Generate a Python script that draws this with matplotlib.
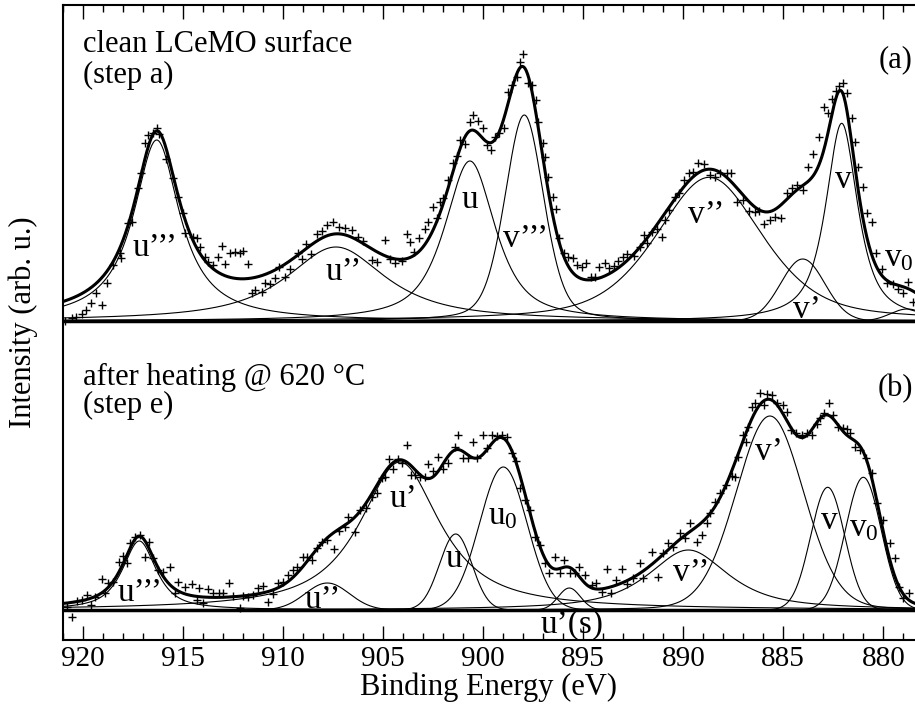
import numpy as np
import matplotlib.pyplot as plt
from matplotlib.ticker import MultipleLocator

plt.rcParams['font.family'] = ['Liberation Serif', 'DejaVu Serif']
plt.rcParams['mathtext.fontset'] = 'custom'
plt.rcParams['mathtext.rm'] = 'Liberation Serif'

# ---- panel (a): clean LCeMO surface, measured points (eV, counts above baseline)
top_e = [920.92, 920.58, 920.37, 920.08, 919.87, 919.63, 919.37, 919.08, 918.83, 918.5,
         918.17, 918.1, 917.75, 917.58, 917.25, 917.12, 916.92, 916.75, 916.53, 916.33,
         916.2, 915.87, 915.53, 915.25, 915.03, 914.92, 914.53, 914.33, 914.17, 913.92,
         913.75, 913.5, 913.25, 913.08, 912.92, 912.67, 912.42, 912.17, 912.0, 911.78,
         911.58, 911.42, 911.08, 910.92, 910.67, 910.42, 910.2, 909.92, 909.67, 909.25,
         909.08, 908.87, 908.63, 908.33, 908.08, 907.83, 907.5, 907.2, 906.92, 906.58,
         906.25, 906.0,
         905.58, 905.3, 904.92, 904.67, 904.42, 904.08, 903.83, 903.67, 903.47, 903.2,
         902.92, 902.75, 902.53, 902.33, 902.17, 902.0, 901.75, 901.53, 901.33, 901.17,
         900.92, 900.67, 900.5, 900.25, 900.0, 899.83, 899.63, 899.42, 899.2, 898.97,
         898.75, 898.58, 898.33, 898.17, 898.03, 897.75, 897.58, 897.38, 897.25, 897.03,
         896.92, 896.75, 896.53, 896.37, 896.2, 895.97, 895.75, 895.53, 895.3, 895.08,
         894.87, 894.63, 894.42, 894.2, 893.92, 893.7, 893.47, 893.25, 893.03, 892.8,
         892.47, 892.17, 891.97, 891.8, 891.58, 891.33, 891.08, 890.92, 890.7, 890.42,
         890.2, 889.97, 889.7, 889.5, 889.25, 888.97, 888.67, 888.42, 888.17, 887.83,
         887.63, 887.33, 887.0, 886.7, 886.42, 886.2, 885.97, 885.67, 885.42, 885.13,
         884.83, 884.58, 884.33, 884.03, 883.75, 883.5, 883.2, 882.97, 882.75, 882.58,
         882.37, 882.2, 882.0, 881.8, 881.58, 881.42, 881.25, 881.03, 880.83, 880.58,
         880.37, 880.08, 879.8, 879.53, 879.25, 879.03, 878.75, 878.5]
top_i = [0, 2.7, 3.7, 7, 11, 17.7, 27.7, 16, 37.7, 56,
         67.7, 62.7, 97.7, 99.3, 132.7, 147.7, 177.7, 186, 187.7, 192.7,
         187, 161.7, 142.7, 123.7, 107.7, 87.7, 84.3, 82.7, 74.3, 64.3,
         59.3, 56, 64.3, 75, 57, 68.3, 69.3, 68.3, 70.3, 57,
         28.3, 31, 29.3, 37.7, 37, 42.7, 53.7, 44.3, 51.7, 67.7,
         61.7, 77, 67, 87, 90.3, 96, 98.7, 94.3, 92.7, 91,
         83.7, 80.3,
         61, 59.3, 81, 61.7, 57.7, 60.3, 87, 79.3, 69.3, 82.7,
         91.7, 99.3, 114.3, 102.7, 119.3, 122.7, 141, 157.7, 165, 181,
         177, 199.3, 206, 200, 192.7, 176, 171, 183.7, 188.3, 192.7,
         229.3, 236, 243.7, 259.3, 267, 237.7, 236, 221, 199.3, 177.7,
         163.7, 144.3, 124.3, 111.7, 82.7, 68.3, 63.7, 62.7, 56, 54.3,
         57.7, 43.7, 43.7, 54.3, 57.7, 52.7, 55, 60.3, 63.7, 67,
         65, 73.7, 86, 77.7, 89.3, 91.7, 83.7, 101, 111, 124.3,
         127.7, 141, 147.7, 149.3, 158.3, 157, 146, 144.3, 148.3, 147.7,
         148.3, 119.3, 121, 110.3, 109.3, 110.3, 97, 101, 104.3, 102.7,
         127.7, 132.7, 136, 131, 154.3, 167, 184.3, 213.7, 207.7, 221.7,
         230.3, 235, 237.7, 227.7, 202.7, 179.3, 154.3, 134.3, 107.7, 99.3,
         67.7, 51.7, 38.3, 37, 31.7, 27.7, 39.3, 19]

# ---- panel (b): after heating @ 620 C
bot_e = [920.83, 920.58, 920.33, 920.08, 919.83, 919.63, 919.42, 919.08, 918.92, 918.75,
         918.5, 918.2, 918.0, 917.83, 917.67, 917.42, 917.17, 916.92, 916.7, 916.5,
         916.25, 916.0, 915.67, 915.42, 915.25, 914.92, 914.58, 914.33, 914.2, 914.0,
         913.75, 913.5, 913.2, 913.0, 912.7, 912.5, 912.17, 912.03, 911.75, 911.53,
         911.25, 911.0, 910.75, 910.53, 910.25, 910.0, 909.75, 909.5, 909.3, 909.03,
         908.8, 908.58, 908.33, 908.08, 907.83, 907.47, 907.2, 906.92, 906.75,
         906.42, 906.17, 905.87, 905.58, 905.3, 905.08, 904.92, 904.7, 904.5, 904.25,
         904.08, 903.83, 903.63, 903.42, 903.17, 902.92, 902.75, 902.5, 902.25, 902.0,
         901.75, 901.42, 901.25, 901.0, 900.75, 900.53, 900.33, 900.0, 899.83, 899.58,
         899.33, 899.08, 898.83, 898.58, 898.37, 898.17, 897.92, 897.67, 897.42, 897.17,
         896.92, 896.7, 896.42, 896.17, 895.97, 895.67, 895.42, 895.2, 894.92, 894.58,
         894.37, 894.08, 893.83, 893.63, 893.37, 893.08, 892.83,
         892.5, 892.17, 892.0, 891.58, 891.25, 891.0, 890.75, 890.5, 890.17, 889.92,
         889.67, 889.33, 889.08, 888.83, 888.67, 888.42, 888.17, 887.87, 887.58, 887.42,
         887.25, 887.03, 886.87, 886.75, 886.58, 886.42, 886.17, 885.97, 885.83, 885.58,
         885.33, 885.03, 884.83, 884.63, 884.37, 884.08, 883.83, 883.58, 883.33, 883.17,
         882.97, 882.7, 882.5, 882.25, 882.03, 881.83, 881.67, 881.42, 881.17, 880.87,
         880.58, 880.33, 880.0, 879.67, 879.42, 879.2, 879.0, 878.7]
bot_i = [2.7, -7.3, 9.3, 10, 15, 5, 13.3, 30.7, 17.3, 26.7,
         28.3, 48.3, 54, 46.7, 66.7, 73.3, 75, 53.3, 68.3, 51.7,
         40, 38.3, 43.3, 16.7, 28.3, 23.3, 26, 10, 21.7, 6.7,
         20.7, 17.3, 17.3, 16.7, 27.3, 14, 1.7, 14, 13.3, 15,
         21.7, 24, 8.3, 16, 26.7, 28.3, 35, 40, 43.3, 53.3,
         53.3, 50, 61.7, 68.3, 70, 60.7, 79.3, 83.3, 93.3,
         78.3, 100, 101.7, 112.7, 116.7, 131.7, 133.3, 150.7, 140.7, 150.7,
         147.3, 165, 135, 135, 133.3, 133.3, 146, 139.3, 152.7, 140.7,
         147.3, 162.7, 175, 151.7, 151.7, 168.3, 151.7, 175, 161.7, 175,
         174, 175, 173.3, 156.7, 149.3, 121.7, 110, 100, 73.3, 65,
         46.7, 36.7, 53.3, 36.7, 50, 36.7, 37.3, 43.3, 35, 25,
         27.3, 18.3, 40.7, 17.3, 30, 40.7, 26,
         31.7, 46.7, 31.7, 58.3, 33.3, 56.7, 66.7, 63.3, 76.7, 71.7,
         86.7, 68.3, 75, 86.7, 97.3, 108.3, 116.7, 125, 134, 133.3,
         153.3, 175, 168.3, 183.3, 203.3, 206.7, 216.7, 205, 216, 215,
         206.7, 205, 198.3, 180, 177.3, 175, 176.7, 175, 186, 191.7,
         196.7, 207.3, 195, 183.3, 181.7, 180.7, 177.3, 163.3, 160, 151.7,
         136.7, 106.7, 90, 66.7, 51.7, 23.3, 11.7, 16.7]

# ---- fitted components: centre (eV), height, FWHM (eV), Lorentzian fraction
top_names = ['u’’’', 'u’’', 'u', 'v’’’', 'v’’', 'v’', 'v', 'v0']
top_pos = [916.33, 907.37, 900.67, 897.95, 888.7, 884.03, 882.08, 878.8]
top_height = [181, 74, 160, 206, 143.7, 62, 197.7, 12]
top_fwhm = [2.8, 6.0, 3.0, 2.3, 6.3, 2.6, 1.9, 2.0]
top_eta = [1.0, 0.9, 0.75, 0.3, 0.5, 0.0, 0.8, 0.0]

bot_names = ['u’’’', 'u’’', 'u’', 'u', 'u0', 'u’(s)', 'v’’', 'v’', 'v', 'v0']
bot_pos = [917.2, 907.8, 904.17, 901.38, 899.0, 895.7, 889.75, 885.67, 882.78, 881.0]
bot_height = [69, 27, 148, 76, 143, 22, 60, 194, 122.7, 132.7]
bot_fwhm = [2.0, 2.6, 4.8, 1.9, 2.8, 1.3, 4.8, 4.0, 2.0, 2.1]
bot_eta = [0.8, 0.0, 0.9, 0.0, 0.0, 0.0, 0.8, 0.1, 0.0, 0.0]

top_base = 319
bot_base = 30


def pseudo_voigt(e, c, h, w, eta):
    x2 = 4 * (e - c) ** 2 / w ** 2
    return h * (eta / (1 + x2) + (1 - eta) * np.exp(-np.log(2) * x2))


fig = plt.figure(figsize=(9.15, 7.11), dpi=100)
ax = fig.add_axes([63 / 915, 1 - 640 / 711, 1 - 63 / 915, 635 / 711])

grid = np.linspace(921.2, 878.2, 1200)
panels = [
    (top_e, top_i, top_pos, top_height, top_fwhm, top_eta, top_base),
    (bot_e, bot_i, bot_pos, bot_height, bot_fwhm, bot_eta, bot_base),
]
for e, inten, pos, hgt, fw, eta, base in panels:
    total = np.zeros_like(grid)
    for c, h, w, f in zip(pos, hgt, fw, eta):
        comp = pseudo_voigt(grid, c, h, w, f)
        total += comp
        ax.plot(grid, comp + base, color='black', lw=0.8)
    ax.plot(grid, total + base, color='black', lw=2.2)
    ax.plot(e, np.array(inten) + base, linestyle='none', marker='+',
            color='black', ms=6, mew=1.0)
    ax.axhline(base, color='black', lw=2.5)

ax.set_xlim(921.015, 878.415)
ax.set_ylim(0, 635)
ax.set_yticks([])
ax.xaxis.set_major_locator(MultipleLocator(5))
ax.xaxis.set_minor_locator(MultipleLocator(1))
ax.tick_params(axis='x', which='both', direction='in', top=True, bottom=True,
               labelsize=21, width=1)
ax.tick_params(axis='x', which='major', length=10, pad=4)
ax.tick_params(axis='x', which='minor', length=5)
for s in ax.spines.values():
    s.set_linewidth(1.5)
ax.spines['right'].set_visible(False)

ax.set_xlabel('Binding Energy (eV)', fontsize=22, labelpad=1)
ax.set_ylabel('Intensity (arb. u.)', fontsize=22, labelpad=18)

# headings
ax.text(920, 588, 'clean LCeMO surface', fontsize=22, va='baseline')
ax.text(920, 557, '(step a)', fontsize=22, va='baseline')
ax.text(920, 255, 'after heating @ 620 °C', fontsize=22, va='baseline')
ax.text(920, 227, '(step e)', fontsize=22, va='baseline')
ax.text(879.4, 580, '(a)', fontsize=22, ha='center', va='center')
ax.text(879.4, 251, '(b)', fontsize=22, ha='center', va='center')

# component labels (energy, height)
top_lab_x = [916.4, 906.99, 900.67, 897.87, 888.83, 883.83, 882.0, 879.2]
top_lab_y = [392, 368, 440, 401.5, 425, 330, 460, 382]
bot_lab_x = [917.14, 908.04, 903.99, 901.47, 899.0, 895.58, 889.58, 885.72, 882.71, 880.95]
bot_lab_y = [47, 40, 141, 81, 124, 15, 67, 188, 119, 112]


def label_text(name):
    if name.endswith('0'):
        return '$\\mathregular{' + name[:-1] + '_0}$'
    return name


for name, x, y in zip(top_names, top_lab_x, top_lab_y):
    ax.text(x, y, label_text(name), fontsize=24, ha='center', va='center')
for name, x, y in zip(bot_names, bot_lab_x, bot_lab_y):
    ax.text(x, y, label_text(name), fontsize=24, ha='center', va='center')

fig.savefig('out.png', dpi=100)
